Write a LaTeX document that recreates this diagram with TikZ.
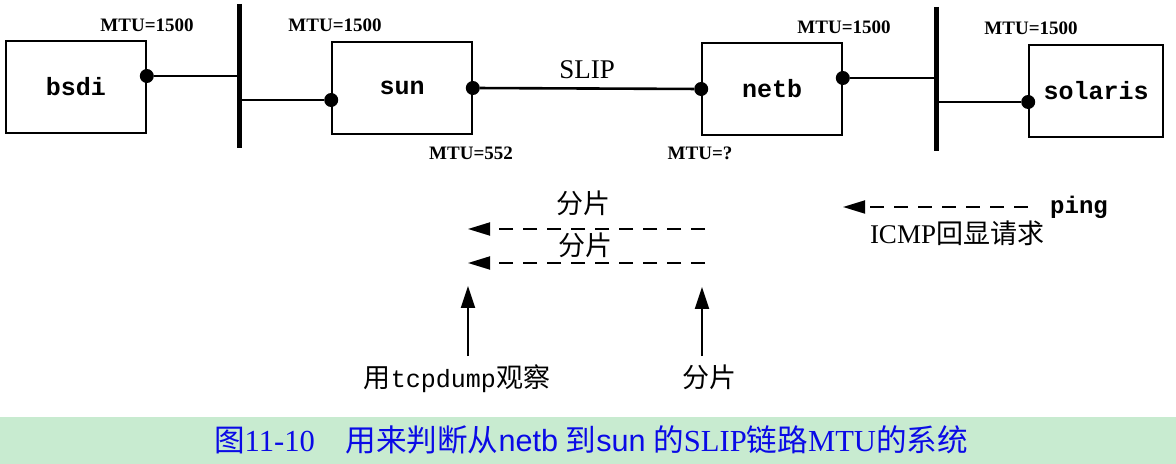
\documentclass[tikz,border=0pt]{standalone}
\usepackage{fontspec}
\setmainfont{Liberation Serif}
\setsansfont{Liberation Sans}
\setmonofont{Liberation Mono}
\newfontfamily\cjk{Noto Sans CJK SC}
\usepackage{xcolor}
\definecolor{mtuCapBg}{HTML}{C8EBD0}
\definecolor{mtuCapText}{HTML}{0A0AE6}
\usepackage{tikz}
\usetikzlibrary{
  arrows.meta,
  positioning,
  calc
}
\tikzset{
  hostbox/.style={
    rectangle,draw=black,line width=0.8pt,
    minimum width=70pt,minimum height=46pt,
    inner sep=0pt,font=\fontsize{12.5}{14}\selectfont\ttfamily\bfseries
  },
  ifdot/.style={circle,fill=black,inner sep=0pt,minimum size=7pt},
  mtulbl/.style={font=\fontsize{9.5}{11}\selectfont\bfseries,inner sep=0pt},
  cjklbl/.style={font=\fontsize{13.5}{15}\selectfont\cjk,inner sep=0pt},
  bus/.style={line width=2.5pt},
  link/.style={line width=1pt},
  slink/.style={line width=1.3pt},
  fragarr/.style={-{Triangle[length=11pt,width=6.5pt]},line width=0.9pt,
                  dash pattern=on 7pt off 5pt},
  uparr/.style={-{Triangle[length=11pt,width=7pt]},line width=1pt},
}
\begin{document}
\begin{tikzpicture}[x=0.5pt,y=-0.5pt]
\useasboundingbox (0,0) rectangle (1176,464);

% hosts
\node[hostbox] (bsdi)    at (76,87)   {bsdi};
\node[hostbox] (sun)     at (402,88)  {sun};
\node[hostbox] (netb)    at (772,89)  {netb};
\node[hostbox,minimum width=67pt] (solaris) at (1096,91) {solaris};

% ethernets
\coordinate (busA) at (239,4);
\coordinate (busAend) at (239,148);
\coordinate (busB) at (936,7);
\coordinate (busBend) at (936,151);
\draw[bus] (busA) -- (busAend);
\draw[bus] (busB) -- (busBend);

% interfaces
\node[ifdot] (bsdiR) at (bsdi.east |- 0,76) {};
\node[ifdot] (sunL)  at (sun.west |- 0,100) {};
\node[ifdot] (sunR)  at (sun.east |- 0,88) {};
\node[ifdot] (netbL) at (netb.west |- 0,89) {};
\node[ifdot] (netbR) at (netb.east |- 0,78) {};
\node[ifdot] (solL)  at (solaris.west |- 0,102) {};

\draw[link] (bsdiR) -- (bsdiR -| busA);
\draw[link] (sunL) -- (sunL -| busA);
\draw[slink] (sunR) -- node[above=1pt,font=\fontsize{13.5}{15}\selectfont] (slip) {SLIP} (netbL);
\draw[link] (netbR) -- (netbR -| busB);
\draw[link] (solL) -- (solL -| busB);

% MTU values
\node[mtulbl] (mtuBsdi) at (147,25)  {MTU=1500};
\node[mtulbl] (mtuSunE) at (335,25)  {MTU=1500};
\node[mtulbl] (mtuSunS) at (471,153) {MTU=552};
\node[mtulbl] (mtuNetS) at (700,153) {MTU=?};
\node[mtulbl] (mtuNetE) at (844,27)  {MTU=1500};
\node[mtulbl] (mtuSol)  at (1031,28) {MTU=1500};

% echo request from solaris
\node[font=\fontsize{12}{14}\selectfont\ttfamily\bfseries,inner sep=0pt] (ping) at (1079,207) {ping};
\coordinate (pingEnd) at (843,207);
\draw[fragarr,shorten <=11pt] (ping) -- (pingEnd);
\node[cjklbl] (icmp) at (957,233) {{\rmfamily ICMP}回显请求};

% fragments
\coordinate (fragAs) at (705,229);
\coordinate (fragAe) at (468,229);
\coordinate (fragBs) at (705,263);
\coordinate (fragBe) at (468,263);
\draw[fragarr] (fragAs) -- (fragAe);
\draw[fragarr] (fragBs) -- (fragBe);
\node[cjklbl] (fragA) at (583,203) {分片};
\node[cjklbl] (fragB) at (585,245) {分片};

% observation points
\coordinate (obsBot) at (468,356);
\coordinate (obsTop) at (468,286);
\coordinate (cutBot) at (702,356);
\coordinate (cutTop) at (702,287);
\draw[uparr] (obsBot) -- (obsTop);
\draw[uparr] (cutBot) -- (cutTop);
\node[cjklbl] (obs) at (457,379) {用{\fontsize{12.5}{14}\ttfamily tcpdump}观察};
\node[cjklbl] (cut) at (709,377) {分片};

% caption
\fill[mtuCapBg] (0,417) rectangle (1176,464);
\node[font=\fontsize{15.3}{17}\selectfont,text=mtuCapText,inner sep=0pt] (caption) at (591,440)
  {{\cjk 图}11-10\quad{\cjk 用来判断从}{\sffamily netb} {\cjk 到}{\sffamily sun} {\cjk 的}SLIP{\cjk 链路}MTU{\cjk 的系统}};

\end{tikzpicture}
\end{document}
